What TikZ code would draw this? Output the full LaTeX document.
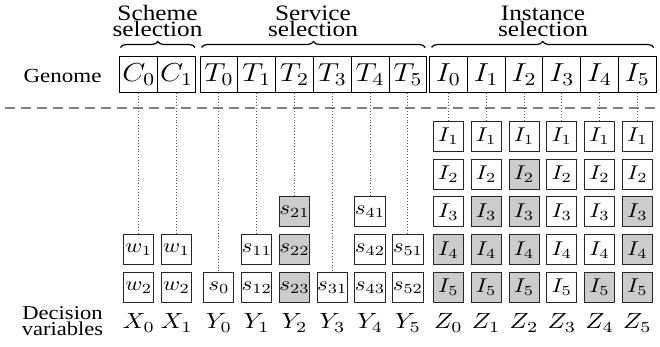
\documentclass[tikz,border=0pt]{standalone}
\usepackage{fix-cm}
\usepackage{fontspec}
\setmainfont{Liberation Serif}
\usepackage{graphicx}
\usetikzlibrary{decorations.pathreplacing}
% glyphs in this figure are set slightly wider than usual
\newcommand{\stretchx}[1]{\scalebox{1.15}[1]{#1}}
% allow tightly stacked label lines
\lineskiplimit=-10pt

\begin{document}
\begin{tikzpicture}[x=0.5pt, y=-0.5pt,
  gene/.style={draw=black, line width=0.5pt, minimum width=18.9pt, minimum height=18pt,
    inner sep=0pt, font=\fontsize{13}{13}\selectfont},
  opt/.style={draw=black!85, line width=0.5pt, minimum size=15pt, inner sep=0pt,
    font=\fontsize{10}{10}\selectfont},
  guide/.style={densely dotted, black!65, line width=0.45pt},
  sep/.style={dash pattern=on 5pt off 3pt, black!50, line width=0.7pt},
  grp/.style={decorate, decoration={brace, amplitude=3pt}, line width=0.6pt},
  head/.style={align=center, inner sep=0pt, font=\fontsize{11}{8}\selectfont},
  side/.style={align=center, inner sep=0pt, font=\fontsize{9.8}{7.7}\selectfont},
  var/.style={font=\fontsize{11}{11}\selectfont, inner sep=0pt},
]
\useasboundingbox (0,0) rectangle (660,347);

% separator between genome and decision variables
\coordinate (sepL) at (5,108);
\coordinate (sepR) at (660,108);
\draw[sep] (sepL) -- (sepR);

% genome
\node[font=\fontsize{10}{10}\selectfont, anchor=base, inner sep=0pt] (genome) at (62.5,83) {\stretchx{Genome}};
\foreach \k in {0,1}
  \node[gene] (c\k) at ({138.8+37.8*\k},75) {\stretchx{$C_{\k}$}};
\foreach \k in {0,...,5} {
  \node[gene] (t\k) at ({218.9+37.8*\k},75) {\stretchx{$T_{\k}$}};
  \node[gene] (i\k) at ({448.4+37.8*\k},75) {\stretchx{$I_{\k}$}};
}

% group headings
\draw[grp] ([shift={(1,-9)}]c0.north west) -- ([shift={(-1,-9)}]c1.north east);
\draw[grp] ([shift={(2,-9)}]t0.north west) -- ([shift={(-2,-9)}]t5.north east);
\draw[grp] ([shift={(2.5,-9)}]i0.north west) -- ([shift={(-3,-9)}]i5.north east);
\node[head] (hscheme) at (157.5,21) {\stretchx{Scheme}\\\stretchx{selection}};
\node[head] (hservice) at (313,21) {\stretchx{Service}\\\stretchx{selection}};
\node[head] (hinstance) at (543,21) {\stretchx{Instance}\\\stretchx{selection}};

% scheme options
\foreach \k in {0,1} {
  \node[opt] (w\k-1) at ({138.8+37.8*\k},249.75) {\stretchx{$w_1$}};
  \node[opt] (w\k-2) at ({138.8+37.8*\k},287.5) {\stretchx{$w_2$}};
  \draw[guide] (c\k.south) -- (w\k-1.north);
}

% service options
\foreach \k/\r/\lab/\fc in {0/5/0/white, 1/4/11/white, 1/5/12/white,
    2/3/21/black!20, 2/4/22/black!20, 2/5/23/black!20, 3/5/31/white,
    4/3/41/white, 4/4/42/white, 4/5/43/white, 5/4/51/white, 5/5/52/white}
  \node[opt, fill=\fc] (s\lab) at ({218.9+37.8*\k},{136.5+37.75*(\r-1)}) {\stretchx{$s_{\lab}$}};
\foreach \k/\lab in {0/0,1/11,2/21,3/31,4/41,5/51}
  \draw[guide] (t\k.south) -- (s\lab.north);

% instance options (shaded from row \g downwards)
\foreach \k/\g in {0/4,1/3,2/2,3/6,4/5,5/3} {
  \foreach \r in {1,...,5} {
    \ifnum\r<\g \def\fc{white}\else\def\fc{black!20}\fi
    \node[opt, fill=\fc] (z\k-\r) at ({448.4+37.8*\k},{136.5+37.75*(\r-1)}) {\stretchx{$I_{\r}$}};
  }
  \draw[guide] (i\k.south) -- (z\k-1.north);
}

% decision variables
\node[side] (decvar) at (62.5,321) {\stretchx{Decision}\\\stretchx{variables}};
\foreach \k in {0,1}
  \node[var, anchor=base] (xv\k) at ({138.8+37.8*\k},329) {\stretchx{$X_{\k}$}};
\foreach \k in {0,...,5} {
  \node[var, anchor=base] (yv\k) at ({218.9+37.8*\k},329) {\stretchx{$Y_{\k}$}};
  \node[var, anchor=base] (zv\k) at ({448.4+37.8*\k},329) {\stretchx{$Z_{\k}$}};
}
\end{tikzpicture}
\end{document}
